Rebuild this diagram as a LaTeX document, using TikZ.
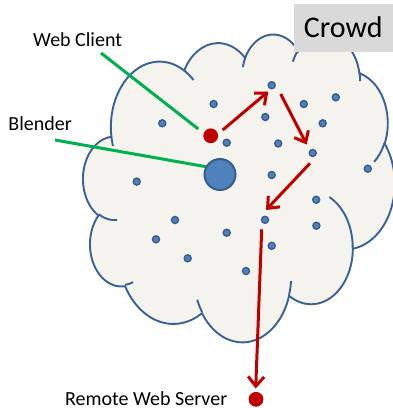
\documentclass[tikz,border=0pt]{standalone}
\usepackage{fontspec}
\setmainfont{Carlito}
\usetikzlibrary{arrows.meta}
\definecolor{cloudfill}{HTML}{F4F3ED}
\definecolor{cloudline}{HTML}{3A6195}
\definecolor{dotfill}{HTML}{4F81BD}
\definecolor{dotline}{HTML}{385D8A}
\definecolor{redc}{HTML}{C00000}
\definecolor{greenc}{HTML}{00B050}
\definecolor{boxgray}{HTML}{D9D9D9}

\newcommand\mkcloudarc[5]{%
  \pgfmathsetmacro\cloudta{atan2((#2)*sin(#4),(#3)*cos(#4))}%
  \pgfmathsetmacro\cloudtb{atan2((#2)*sin((#4)+(#5)),(#3)*cos((#4)+(#5)))}%
  \pgfmathsetmacro\cloudtd{mod(\cloudtb-\cloudta+720,360)}%
  \expandafter\xdef\csname cloudarc#1\endcsname{arc[start angle=\cloudta, delta angle=\cloudtd, x radius=#2, y radius=#3]}%
}
\mkcloudarc{A}{675.3}{919.0}{-190.4875}{123.7805}
\mkcloudarc{B}{533.3}{726.7}{-144.1024}{89.9452}
\mkcloudarc{C}{436.5}{594.5}{-145.8079}{99.7230}
\mkcloudarc{D}{485.7}{659.5}{-130.9861}{117.2417}
\mkcloudarc{E}{533.3}{727.3}{-78.7089}{109.0269}
\mkcloudarc{F}{677.5}{922.0}{-46.2673}{130.2690}
\mkcloudarc{G}{578.5}{786.7}{0.6250}{114.0333}
\mkcloudarc{H}{675.2}{921.5}{22.4516}{115.1726}
\mkcloudarc{I}{772.0}{1054.3}{66.2426}{75.7110}
\mkcloudarc{J}{436.0}{591.8}{-274.9421}{146.7356}
\mkcloudarc{K}{434.5}{594.5}{-246.8285}{152.5189}
\mkcloudarc{ha}{434.5}{594.5}{86.7420}{26.4295}
\mkcloudarc{hb}{436.0}{591.8}{73.6105}{11.4475}
\mkcloudarc{hc}{675.2}{921.5}{137.6242}{14.0811}
\mkcloudarc{hd}{675.2}{921.5}{6.4533}{15.9984}
\mkcloudarc{he}{578.5}{786.7}{-70.2924}{70.9174}
\mkcloudarc{hf}{533.3}{727.3}{30.3180}{27.7515}
\mkcloudarc{hg}{485.7}{659.5}{-13.7443}{14.8589}
\mkcloudarc{hh}{485.7}{659.5}{-149.1815}{18.1954}
\mkcloudarc{hi}{436.5}{594.5}{-163.4943}{17.6864}
\mkcloudarc{hj}{675.3}{919.0}{-66.7070}{12.3194}
\mkcloudarc{hk}{675.3}{919.0}{157.6544}{11.8582}

\tikzset{
  cloudline/.style={draw=cloudline, line width=1.9pt},
  dot/.style={circle, inner sep=0pt, minimum size=7pt, fill=dotfill, draw=dotline, line width=1.4pt},
  reddot/.style={circle, inner sep=0pt, minimum size=14.8pt, fill=redc},
  bigdot/.style={circle, inner sep=0pt, minimum size=31pt, fill=dotfill, draw=dotline, line width=2pt},
  redarrow/.style={draw=redc, line width=3pt, -{Straight Barb[length=9.5pt, width=16pt]}},
  greenline/.style={draw=greenc, line width=3pt},
  lbl/.style={inner sep=0pt, anchor=base west, text depth=0pt, font=\fontsize{20}{24}\selectfont},
}

\begin{document}
\begin{tikzpicture}[x=1pt, y=-1pt]
\useasboundingbox (0,0) rectangle (393,408);

% cloud
\begin{scope}[shift={(83.2,33.5)}, x=0.0721pt, y=-0.07125pt]
  \path[cloudline, fill=cloudfill] (390,1437) \cloudarcA \cloudarcB \cloudarcC \cloudarcD \cloudarcE \cloudarcF \cloudarcG \cloudarcH \cloudarcI \cloudarcJ \cloudarcK -- cycle;
  \path[cloudline] (469.3,2617.7) \cloudarcha
    (692.8,3489.9) \cloudarchb
    (1647.8,3909.0) \cloudarchc
    (2882.7,3475.1) \cloudarchd
    (3412.9,2295.4) \cloudarche
    (4179.8,1535.4) \cloudarchf
    (3832.4,542.6) \cloudarchg
    (2907.8,395.2) \cloudarchh
    (2214.1,472.0) \cloudarchi
    (1400.0,519.2) \cloudarchj
    (412.7,1578.9) \cloudarchk;
\end{scope}

% green pointers
\coordinate (wcl) at (101,53);
\coordinate (wce) at (198.3,129);
\coordinate (bll) at (55,140);
\coordinate (ble) at (206,166.7);
\draw[greenline] (wcl) -- (wce);
\draw[greenline] (bll) -- (ble);

% crowd dots
\node[dot] (d1) at (271.7,85.2) {};
\node[dot] (d2) at (213.6,104) {};
\node[dot] (d3) at (303.8,104) {};
\node[dot] (d4) at (335.8,97.3) {};
\node[dot] (d5) at (265.3,117) {};
\node[dot] (d6) at (322.7,123.3) {};
\node[dot] (d7) at (162.3,123.3) {};
\node[dot] (d8) at (226.7,142.7) {};
\node[dot] (d9) at (278.2,143.5) {};
\node[dot] (d10) at (312.7,153) {};
\node[dot] (d11) at (367.8,168.7) {};
\node[dot] (d12) at (271.7,175) {};
\node[dot] (d13) at (136.7,181.6) {};
\node[dot] (d14) at (316.2,199.7) {};
\node[dot] (d15) at (265,219.8) {};
\node[dot] (d16) at (175,220) {};
\node[dot] (d17) at (316.4,225.7) {};
\node[dot] (d18) at (226.7,232.7) {};
\node[dot] (d19) at (156,239.3) {};
\node[dot] (d20) at (271.7,245.8) {};
\node[dot] (d21) at (187.7,258.3) {};
\node[dot] (d22) at (246,271) {};

% web client, blender, remote server
\node[reddot] (wc) at (210.7,135.8) {};
\node[bigdot] (bl) at (220,174.5) {};
\node[reddot] (rs) at (256,399.3) {};

% red route
\coordinate (a1s) at (222.7,130);
\coordinate (a1e) at (268.3,91.5);
\coordinate (a2s) at (280.7,94);
\coordinate (a2e) at (306.7,144.5);
\coordinate (a3s) at (310,163.3);
\coordinate (a3e) at (266,210);
\coordinate (a4s) at (261.7,229.3);
\coordinate (a4e) at (255.7,388.5);
\draw[redarrow] (a1s) -- (a1e);
\draw[redarrow] (a2s) -- (a2e);
\draw[redarrow] (a3s) -- (a3e);
\draw[redarrow] (a4s) -- (a4e);

% labels
\node[lbl] (wctext) at (33,46.7) {Web Client};
\node[lbl] (bltext) at (8.3,130) {Blender};
\node[lbl] (rstext) at (65,405) {Remote Web Server};

\node[fill=boxgray, inner sep=0pt, minimum width=98.5pt, minimum height=47.7pt,
      text height=19.3pt, text depth=0pt, font=\fontsize{30}{36}\selectfont]
      (crowd) at (343.25,27.85) {Crowd};
\end{tikzpicture}
\end{document}
